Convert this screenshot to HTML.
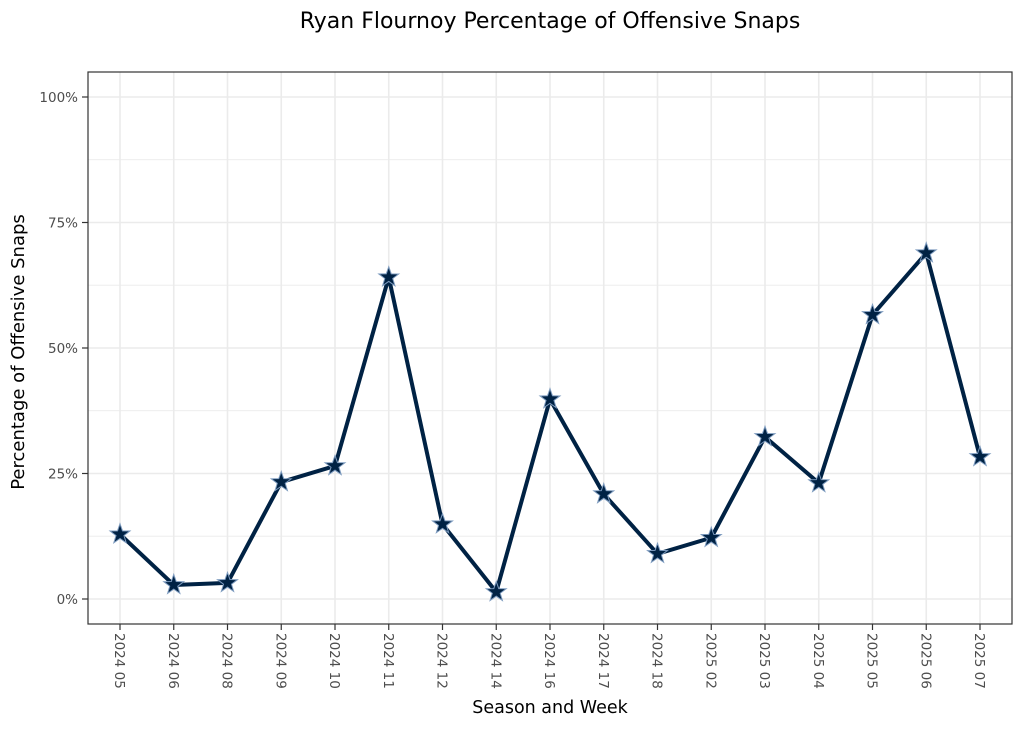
<!DOCTYPE html>
<html><head><meta charset="utf-8"><style>body{margin:0;background:#fff}svg{display:block}text{font-family:"DejaVu Sans","Liberation Sans",sans-serif}</style></head><body>
<svg width="1024" height="731" viewBox="0 0 1024 731" xmlns="http://www.w3.org/2000/svg">
<text x="550" y="28" font-size="22" text-anchor="middle" fill="#000">Ryan Flournoy Percentage of Offensive Snaps</text>
<g stroke="#ebebeb" stroke-width="0.8">
<line x1="88" x2="1012" y1="536.2" y2="536.2"/><line x1="88" x2="1012" y1="410.7" y2="410.7"/><line x1="88" x2="1012" y1="285.2" y2="285.2"/><line x1="88" x2="1012" y1="159.7" y2="159.7"/>
</g>
<g stroke="#ebebeb" stroke-width="1.6" id="grid"></g>
<rect x="88" y="72" width="924" height="552" fill="none" stroke="#333" stroke-width="1.2"/>
<g id="yax" font-size="13.5" fill="#4d4d4d" text-anchor="end"></g>
<text transform="translate(24,352) rotate(-90)" font-size="18" text-anchor="middle">Percentage of Offensive Snaps</text>
<text x="550" y="713" font-size="17.5" text-anchor="middle">Season and Week</text>
<g id="xax" font-size="13.5" fill="#4d4d4d"></g>
<polyline id="ln" fill="none" stroke="#002244" stroke-width="4" stroke-linejoin="round"/>
<g id="pts"></g>
</svg>
<script>
const ns="http://www.w3.org/2000/svg";
function el(t,a,p){const e=document.createElementNS(ns,t);for(const k in a)e.setAttribute(k,a[k]);document.getElementById(p).appendChild(e);return e;}
const Y=v=>599-v*5.02;
[0,25,50,75,100].forEach(v=>{el('line',{x1:88,x2:1012,y1:Y(v),y2:Y(v)},'grid');
el('line',{x1:82,x2:88,y1:Y(v),y2:Y(v),stroke:'#333','stroke-width':1.2},'yax');
const t=el('text',{x:78,y:Y(v)+5},'yax');t.textContent=v+'%';});
const labs=["2024 05","2024 06","2024 08","2024 09","2024 10","2024 11","2024 12","2024 14","2024 16","2024 17","2024 18","2025 02","2025 03","2025 04","2025 05","2025 06","2025 07"];
const vals=[12.9,2.8,3.2,23.3,26.5,64.1,14.9,1.4,39.8,20.9,9.0,12.2,32.3,23.1,56.6,68.9,28.3];
let pts=[];
labs.forEach((l,i)=>{const x=120+i*53.75;
el('line',{x1:x,x2:x,y1:72,y2:624},'grid');
el('line',{x1:x,x2:x,y1:624,y2:630,stroke:'#333','stroke-width':1.2},'xax');
const t=el('text',{transform:`translate(${x-5},633) rotate(90)`},'xax');t.textContent=l;
pts.push(x+','+Y(vals[i]));});
document.getElementById('ln').setAttribute('points',pts.join(' '));
vals.forEach((v,i)=>{const cx=120+i*53.75,cy=Y(v);let d='';
for(let k=0;k<10;k++){const r=k%2?4.2:10.5,a=-Math.PI/2+k*Math.PI/5;d+=(k?'L':'M')+(cx+r*Math.cos(a)).toFixed(2)+','+(cy+r*Math.sin(a)).toFixed(2);}
el('path',{d:d+'Z',fill:'#002244',stroke:'#7d9bbf','stroke-width':1},'pts');});
</script>
</body></html>
